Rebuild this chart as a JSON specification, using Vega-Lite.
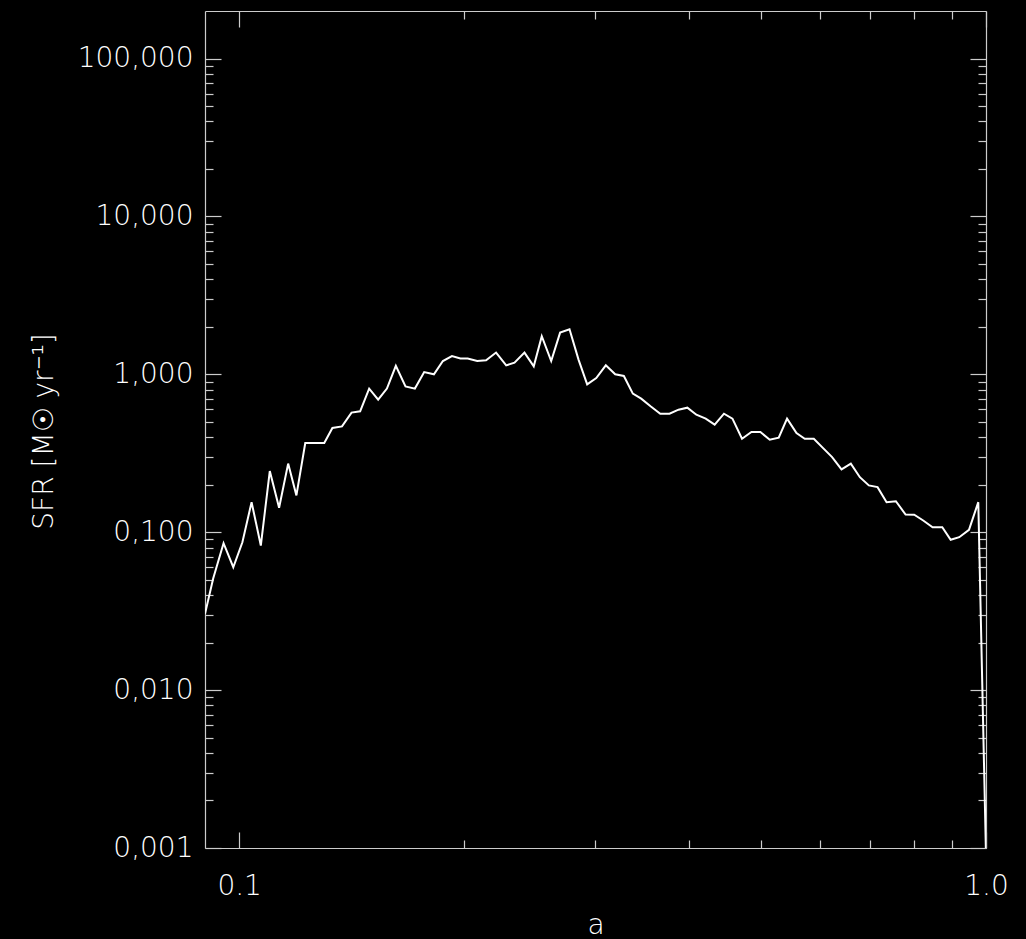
{
  "$schema": "https://vega.github.io/schema/vega-lite/v6.json",
  "autosize": "none",
  "width": 781,
  "height": 837,
  "padding": {"left": 205, "top": 11, "right": 40, "bottom": 91},
  "background": "black",
  "config": {
    "view": {"stroke": null},
    "axis": {
      "grid": false,
      "domainColor": "#cccccc",
      "domainWidth": 1.2,
      "tickColor": "#cccccc",
      "tickWidth": 1.2,
      "labelColor": "white",
      "titleColor": "white",
      "labelFont": "DejaVu Sans",
      "titleFont": "DejaVu Sans",
      "labelFontSize": 28,
      "titleFontSize": 28,
      "labelFontWeight": 200,
      "titleFontWeight": 200,
      "labelFlush": false,
      "labelOverlap": false,
      "labelBound": false
    }
  },
  "data": {
    "values": [
      {"a": 0.0900, "sfr": 0.0304},
      {"a": 0.0923, "sfr": 0.0509},
      {"a": 0.0953, "sfr": 0.0852},
      {"a": 0.0982, "sfr": 0.0600},
      {"a": 0.1010, "sfr": 0.0864},
      {"a": 0.1039, "sfr": 0.155},
      {"a": 0.1069, "sfr": 0.0823},
      {"a": 0.1099, "sfr": 0.244},
      {"a": 0.1131, "sfr": 0.143},
      {"a": 0.1163, "sfr": 0.272},
      {"a": 0.1193, "sfr": 0.171},
      {"a": 0.1226, "sfr": 0.367},
      {"a": 0.1262, "sfr": 0.367},
      {"a": 0.1300, "sfr": 0.367},
      {"a": 0.1333, "sfr": 0.457},
      {"a": 0.1373, "sfr": 0.468},
      {"a": 0.1414, "sfr": 0.572},
      {"a": 0.1452, "sfr": 0.583},
      {"a": 0.1493, "sfr": 0.812},
      {"a": 0.1535, "sfr": 0.691},
      {"a": 0.1577, "sfr": 0.812},
      {"a": 0.1621, "sfr": 1.132},
      {"a": 0.1670, "sfr": 0.839},
      {"a": 0.1719, "sfr": 0.812},
      {"a": 0.1769, "sfr": 1.034},
      {"a": 0.1823, "sfr": 1.000},
      {"a": 0.1874, "sfr": 1.214},
      {"a": 0.1927, "sfr": 1.306},
      {"a": 0.1978, "sfr": 1.258},
      {"a": 0.2023, "sfr": 1.258},
      {"a": 0.2083, "sfr": 1.214},
      {"a": 0.2141, "sfr": 1.227},
      {"a": 0.2208, "sfr": 1.373},
      {"a": 0.2278, "sfr": 1.140},
      {"a": 0.2337, "sfr": 1.186},
      {"a": 0.2410, "sfr": 1.373},
      {"a": 0.2480, "sfr": 1.124},
      {"a": 0.2542, "sfr": 1.742},
      {"a": 0.2617, "sfr": 1.214},
      {"a": 0.2690, "sfr": 1.838},
      {"a": 0.2769, "sfr": 1.929},
      {"a": 0.2847, "sfr": 1.239},
      {"a": 0.2924, "sfr": 0.864},
      {"a": 0.3007, "sfr": 0.947},
      {"a": 0.3097, "sfr": 1.140},
      {"a": 0.3188, "sfr": 1.000},
      {"a": 0.3274, "sfr": 0.976},
      {"a": 0.3366, "sfr": 0.755},
      {"a": 0.3454, "sfr": 0.701},
      {"a": 0.3555, "sfr": 0.627},
      {"a": 0.3663, "sfr": 0.563},
      {"a": 0.3769, "sfr": 0.563},
      {"a": 0.3875, "sfr": 0.597},
      {"a": 0.3982, "sfr": 0.615},
      {"a": 0.4094, "sfr": 0.555},
      {"a": 0.4214, "sfr": 0.524},
      {"a": 0.4332, "sfr": 0.480},
      {"a": 0.4458, "sfr": 0.563},
      {"a": 0.4576, "sfr": 0.524},
      {"a": 0.4713, "sfr": 0.391},
      {"a": 0.4852, "sfr": 0.431},
      {"a": 0.4988, "sfr": 0.431},
      {"a": 0.5134, "sfr": 0.385},
      {"a": 0.5278, "sfr": 0.397},
      {"a": 0.5415, "sfr": 0.524},
      {"a": 0.5575, "sfr": 0.424},
      {"a": 0.5719, "sfr": 0.391},
      {"a": 0.5881, "sfr": 0.391},
      {"a": 0.6052, "sfr": 0.341},
      {"a": 0.6222, "sfr": 0.299},
      {"a": 0.6405, "sfr": 0.250},
      {"a": 0.6592, "sfr": 0.272},
      {"a": 0.6778, "sfr": 0.223},
      {"a": 0.6968, "sfr": 0.198},
      {"a": 0.7158, "sfr": 0.193},
      {"a": 0.7360, "sfr": 0.155},
      {"a": 0.7574, "sfr": 0.157},
      {"a": 0.7804, "sfr": 0.1295},
      {"a": 0.8014, "sfr": 0.129},
      {"a": 0.8240, "sfr": 0.1187},
      {"a": 0.8482, "sfr": 0.1076},
      {"a": 0.8739, "sfr": 0.1076},
      {"a": 0.8968, "sfr": 0.0895},
      {"a": 0.9209, "sfr": 0.0930},
      {"a": 0.9489, "sfr": 0.1036},
      {"a": 0.9765, "sfr": 0.155},
      {"a": 1.0000, "sfr": 0.0009}
    ]
  },
  "resolve": {"axis": {"x": "independent", "y": "independent"}},
  "layer": [
    {
      "mark": {"type": "line", "color": "white", "strokeWidth": 2, "clip": true},
      "encoding": {
        "x": {
          "field": "a", "type": "quantitative",
          "scale": {"type": "log", "domain": [0.09, 1.0], "nice": false, "zero": false},
          "axis": {
            "orient": "bottom", "values": [0.1, 1.0], "ticks": false, "domain": true,
            "labelExpr": "format(datum.value, '.1f')", "labelBaseline": "alphabetic", "labelPadding": 46,
            "title": "a", "titleX": 390.5, "titleY": 85, "titleAlign": "center", "titleBaseline": "alphabetic"
          }
        },
        "y": {
          "field": "sfr", "type": "quantitative",
          "scale": {"type": "log", "domain": [0.001, 200], "nice": false, "zero": false},
          "axis": {
            "orient": "left", "values": [0.001, 0.01, 0.1, 1, 10, 100], "ticks": false, "domain": true,
            "labelExpr": "replace(format(datum.value, '.3f'), '.', ',')", "labelPadding": 12,
            "title": "SFR [M☉ yr⁻¹]", "titleAngle": -90, "titleX": -153, "titleY": 420,
            "titleAlign": "center", "titleBaseline": "alphabetic"
          }
        }
      }
    },
    {
      "mark": {"type": "point", "opacity": 0},
      "encoding": {
        "x": {"field": "a", "type": "quantitative",
          "axis": {"orient": "top", "values": [0.1, 1.0], "labels": false, "domain": true, "tickSize": -16, "title": null}},
        "y": {"field": "sfr", "type": "quantitative",
          "axis": {"orient": "right", "values": [0.001, 0.01, 0.1, 1, 10, 100], "labels": false, "domain": true, "tickSize": -16, "title": null}}
      }
    },
    {
      "mark": {"type": "point", "opacity": 0},
      "encoding": {
        "x": {"field": "a", "type": "quantitative",
          "axis": {"orient": "bottom", "values": [0.1, 1.0], "labels": false, "domain": false, "tickSize": -16, "title": null}},
        "y": {"field": "sfr", "type": "quantitative",
          "axis": {"orient": "left", "values": [0.001, 0.01, 0.1, 1, 10, 100], "labels": false, "domain": false, "tickSize": -16, "title": null}}
      }
    },
    {
      "mark": {"type": "point", "opacity": 0},
      "encoding": {
        "x": {"field": "a", "type": "quantitative",
          "axis": {"orient": "top", "values": [0.2, 0.3, 0.4, 0.5, 0.6, 0.7, 0.8, 0.9], "labels": false, "domain": false, "tickSize": -8, "title": null}},
        "y": {"field": "sfr", "type": "quantitative",
          "axis": {"orient": "right", "values": [0.002, 0.003, 0.004, 0.005, 0.006, 0.007, 0.008, 0.009, 0.02, 0.03, 0.04, 0.05, 0.06, 0.07, 0.08, 0.09, 0.2, 0.3, 0.4, 0.5, 0.6, 0.7, 0.8, 0.9, 2, 3, 4, 5, 6, 7, 8, 9, 20, 30, 40, 50, 60, 70, 80, 90], "labels": false, "domain": false, "tickSize": -8, "title": null}}
      }
    },
    {
      "mark": {"type": "point", "opacity": 0},
      "encoding": {
        "x": {"field": "a", "type": "quantitative",
          "axis": {"orient": "bottom", "values": [0.2, 0.3, 0.4, 0.5, 0.6, 0.7, 0.8, 0.9], "labels": false, "domain": false, "tickSize": -8, "title": null}},
        "y": {"field": "sfr", "type": "quantitative",
          "axis": {"orient": "left", "values": [0.002, 0.003, 0.004, 0.005, 0.006, 0.007, 0.008, 0.009, 0.02, 0.03, 0.04, 0.05, 0.06, 0.07, 0.08, 0.09, 0.2, 0.3, 0.4, 0.5, 0.6, 0.7, 0.8, 0.9, 2, 3, 4, 5, 6, 7, 8, 9, 20, 30, 40, 50, 60, 70, 80, 90], "labels": false, "domain": false, "tickSize": -8, "title": null}}
      }
    }
  ]
}
